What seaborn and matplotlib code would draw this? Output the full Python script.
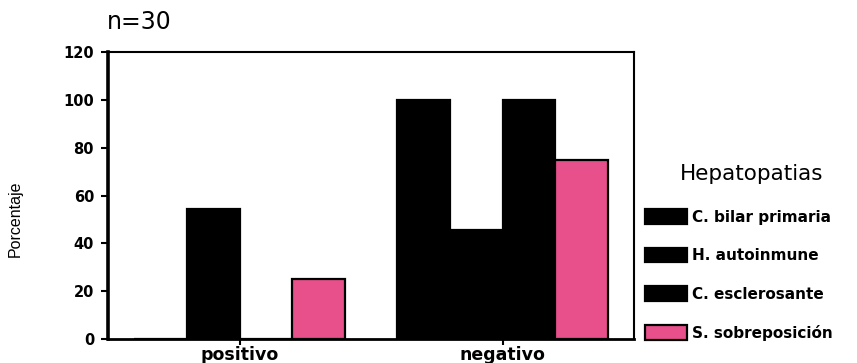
import matplotlib
matplotlib.use("Agg")
import matplotlib.pyplot as plt
import seaborn as sns
import pandas as pd

# Results by antibody status, percentage per liver disease group
categories = ["positivo", "negativo"]
diseases = ["C. bilar primaria", "H. autoinmune", "C. esclerosante", "S. sobreposición"]
bilar_primaria = [0, 100]
autoinmune = [54.5, 45.5]
esclerosante = [0, 100]
sobreposicion = [25, 75]
colors = ["#000000", "#000000", "#000000", "#E8508C"]
yticks = [0, 20, 40, 60, 80, 100, 120]

rows = []
for name, vals in zip(diseases, [bilar_primaria, autoinmune, esclerosante, sobreposicion]):
    for cat, v in zip(categories, vals):
        rows.append({"Resultado": cat, "Hepatopatias": name, "Porcentaje": v})
df = pd.DataFrame(rows)

sns.set_style("white")
plt.rcParams["font.family"] = ["DejaVu Sans"]
for key in ["text.color", "axes.labelcolor", "xtick.color", "ytick.color"]:
    plt.rcParams[key] = "black"

W, H = 857, 363
fig = plt.figure(figsize=(W / 100, H / 100), dpi=100)
ax = fig.add_axes([108 / W, 1 - 339 / H, (634 - 108) / W, (339 - 52) / H])

sns.barplot(data=df, x="Resultado", y="Porcentaje", hue="Hepatopatias",
            order=categories, hue_order=diseases, palette=colors,
            saturation=1, width=0.8, edgecolor="black", linewidth=1.6, ax=ax)

ax.set_xlim(-0.5, 1.5)
ax.set_ylim(0, 120)
ax.set_yticks(yticks)
ax.set_yticklabels([str(t) for t in yticks], fontsize=10.5, fontweight="bold")
ax.set_xticks(range(len(categories)))
ax.set_xticklabels(categories, fontsize=12.5, fontweight="bold")
ax.set_xlabel("")
ax.set_ylabel("Porcentaje", family=["Liberation Sans Narrow", "Liberation Sans"],
              fontsize=11.5)
ax.yaxis.set_label_coords(-0.163, 0.42)

ax.tick_params(axis="y", direction="out", length=5, width=1.5, color="black", pad=5)
ax.tick_params(axis="x", direction="out", length=4, width=1.5, color="black", pad=1)
ax.tick_params(left=True, bottom=True)

for side, lw in [("left", 2.6), ("bottom", 2.0), ("top", 1.5), ("right", 1.5)]:
    ax.spines[side].set_visible(True)
    ax.spines[side].set_color("black")
    ax.spines[side].set_linewidth(lw)

fig.text(107 / W, 1 - 22 / H, "n=30", fontsize=17, va="center", ha="left")
fig.text(752 / W, 1 - 174 / H, "Hepatopatias", fontsize=15.5, va="center", ha="center")

handles, labels = ax.get_legend_handles_labels()
if ax.legend_:
    ax.legend_.remove()
fig.legend(handles, labels, loc="center left",
           bbox_to_anchor=(645 / W, 1 - 275 / H), frameon=False,
           prop={"size": 11, "weight": "bold"}, handlelength=2.75,
           handleheight=1.1, handletextpad=0.3, labelspacing=1.5,
           borderpad=0, borderaxespad=0)

fig.savefig("out.png", dpi=100)
